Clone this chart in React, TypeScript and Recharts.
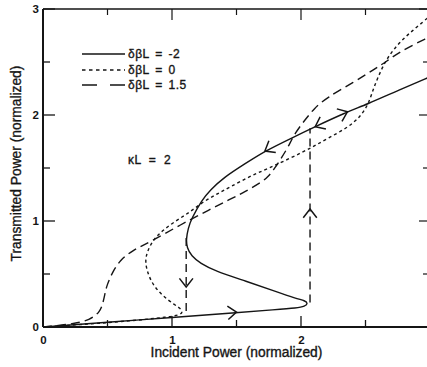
import React from 'react';
import { ComposedChart, Line, Scatter, XAxis, YAxis, Legend, Label } from 'recharts';

type P = [number, number];

// ---------- data ----------
const X_TICKS = [0, 0.5, 1, 1.5, 2, 2.5, 3];
const Y_TICKS = [0, 0.5, 1, 1.5, 2, 2.5, 3];
const X_TICK_LABELS = [0, 1, 2];
const Y_TICK_LABELS = [0, 1, 2, 3];
const X_DOMAIN: P = [0, 3];
const Y_DOMAIN: P = [0, 3];

const SERIES_NAMES = ['δβL = -2', 'δβL = 0', 'δβL = 1.5'];
const ANNOTATION = 'κL = 2';
const X_TITLE = 'Incident Power (normalized)';
const Y_TITLE = 'Transmitted Power (normalized)';

// δβL = -2 (solid)
const solidCurve: P[] = [
  [0, 0], [0.5, 0.045], [1.0, 0.09], [1.5, 0.135], [1.8, 0.163], [1.97, 0.18], [2.03, 0.195],
  [2.055, 0.222], [2.03, 0.25], [1.97, 0.265], [1.79, 0.34], [1.58, 0.43], [1.33, 0.53],
  [1.22, 0.6], [1.15, 0.67], [1.115, 0.75], [1.11, 0.83], [1.125, 0.93], [1.15, 1.02],
  [1.233, 1.2], [1.295, 1.29], [1.4, 1.41], [1.566, 1.54], [1.72, 1.66], [1.94, 1.79],
  [2.11, 1.89], [2.34, 2.02], [2.51, 2.1], [2.75, 2.23], [3.0, 2.36],
];

// δβL = 0 (dotted)
const dottedCurve: P[] = [
  [0, 0], [0.36, 0.028], [0.67, 0.057], [0.98, 0.094], [1.06, 0.115], [1.085, 0.14],
  [1.06, 0.18], [1.02, 0.21], [0.93, 0.29], [0.853, 0.396], [0.814, 0.5], [0.791, 0.613],
  [0.806, 0.708], [0.853, 0.821], [0.93, 0.915], [1.039, 1.009], [1.14, 1.085], [1.24, 1.18],
  [1.349, 1.255], [1.45, 1.32], [1.6, 1.42], [1.744, 1.495], [1.93, 1.6], [2.078, 1.69],
  [2.2, 1.775], [2.357, 1.877], [2.457, 1.98], [2.52, 2.094], [2.558, 2.236], [2.597, 2.358],
  [2.651, 2.5], [2.713, 2.613], [2.806, 2.736], [2.899, 2.83], [3.0, 2.935],
];

// δβL = 1.5 (dashed)
const dashedCurve: P[] = [
  [0, 0], [0.233, 0.028], [0.364, 0.066], [0.442, 0.142], [0.465, 0.226], [0.481, 0.32],
  [0.496, 0.396], [0.535, 0.509], [0.597, 0.632], [0.698, 0.726], [0.829, 0.802],
  [1.062, 0.962], [1.295, 1.11], [1.45, 1.205], [1.566, 1.275], [1.698, 1.37], [1.744, 1.415],
  [1.798, 1.5], [1.853, 1.604], [1.9, 1.698], [1.953, 1.83], [2.031, 1.953], [2.1, 2.06],
  [2.2, 2.165], [2.41, 2.31], [2.566, 2.43], [2.67, 2.51], [2.767, 2.6], [3.0, 2.74],
];

// hysteresis jumps
const jumpDown: P[] = [[1.11, 0.84], [1.11, 0.11]];
const jumpUp: P[] = [[2.07, 0.23], [2.07, 1.875]];

// arrow heads: x, y (tip), direction dx, dy (data units)
const arrowHeads: [number, number, number, number][] = [
  [1.5, 0.14, 1, 0.09],
  [1.72, 1.66, -1, -0.72],
  [2.11, 1.89, -1, -0.575],
  [2.36, 2.03, 1, 0.5],
  [1.11, 0.377, 0, -1],
  [2.07, 1.113, 0, 1],
];

const rows = (pts: P[]) => pts.map(([x, y]) => ({ x, y }));
const arrowRows = arrowHeads.map(([x, y, dx, dy]) => ({ x, y, dx, dy }));

// ---------- layout / style ----------
const W = 431;
const H = 367;
const MARGIN = { top: 8, right: 0, bottom: 10, left: 13 };
const Y_AXIS_W = 30;
const X_AXIS_H = 30;
const EDGE = 1;
const PLOT_W = W - MARGIN.left - Y_AXIS_W - MARGIN.right - EDGE;
const PLOT_H = H - MARGIN.top - EDGE - MARGIN.bottom - X_AXIS_H;
const PX_X = PLOT_W / (X_DOMAIN[1] - X_DOMAIN[0]);
const PX_Y = PLOT_H / (Y_DOMAIN[1] - Y_DOMAIN[0]);

const INK = '#151515';
const FONT = "'Liberation Sans', Arial, Helvetica, sans-serif";
const STYLES = [
  { dash: undefined as string | undefined, legendDash: undefined as string | undefined },
  { dash: '3 3', legendDash: '3.5 3.5' },
  { dash: '9 5', legendDash: '15 13' },
];
const MAJOR = 11;
const MINOR = 7;
const TEXT_WEIGHT = { stroke: INK, strokeWidth: 0.35 };

const isInt = (v: number) => Math.abs(v - Math.round(v)) < 1e-9;

const BottomTick = (props: any) => {
  const { x, y, payload } = props;
  const v = payload.value as number;
  return (
    <g>
      <line x1={x} x2={x} y1={y} y2={y - (isInt(v) ? MAJOR : MINOR)} stroke={INK} strokeWidth={1.3} />
      {X_TICK_LABELS.includes(v) && (
        <text x={x + 0.5} y={y + 16.5} textAnchor="middle" fontFamily={FONT} fontWeight="bold" fontSize={11.5} fill={INK}>
          {v}
        </text>
      )}
    </g>
  );
};

const TopTick = (props: any) => {
  const { x, y, payload } = props;
  const v = payload.value as number;
  return <line x1={x} x2={x} y1={y} y2={y + (isInt(v) ? MAJOR : MINOR - 1)} stroke={INK} strokeWidth={1.2} />;
};

const LeftTick = (props: any) => {
  const { x, y, payload } = props;
  const v = payload.value as number;
  return (
    <g>
      <line x1={x} x2={x + (isInt(v) ? MAJOR + 1 : MINOR)} y1={y} y2={y} stroke={INK} strokeWidth={1.3} />
      {Y_TICK_LABELS.includes(v) && (
        <text x={x - 4} y={y + 4.2} textAnchor="end" fontFamily={FONT} fontWeight="bold" fontSize={11.5} fill={INK}>
          {v}
        </text>
      )}
    </g>
  );
};

const RightTick = (props: any) => {
  const { x, y, payload } = props;
  const v = payload.value as number;
  return <line x1={x} x2={x - (isInt(v) ? MAJOR : MINOR)} y1={y} y2={y} stroke={INK} strokeWidth={1.2} />;
};

const ArrowHead = (props: any) => {
  const { cx, cy, payload } = props;
  if (cx == null || cy == null) return <g />;
  const ang = Math.atan2(-payload.dy * PX_Y, payload.dx * PX_X);
  const back = ang + Math.PI;
  const L = 11;
  const h = (38 * Math.PI) / 180;
  const ax = cx + L * Math.cos(back + h);
  const ay = cy + L * Math.sin(back + h);
  const bx = cx + L * Math.cos(back - h);
  const by = cy + L * Math.sin(back - h);
  return (
    <path d={`M${ax},${ay} L${cx},${cy} L${bx},${by}`} fill="none" stroke={INK} strokeWidth={1.5} strokeLinejoin="miter" />
  );
};

const XTitle = (props: any) => {
  const vb = props.viewBox || { x: 0, y: 0, width: 0, height: 0 };
  return (
    <text x={vb.x + vb.width / 2} y={vb.y + vb.height} textAnchor="middle" fontFamily={FONT} fontSize={13.8} fill={INK} {...TEXT_WEIGHT}>
      {X_TITLE}
    </text>
  );
};

const YTitle = (props: any) => {
  const vb = props.viewBox || { x: 0, y: 0, width: 0, height: 0 };
  const cx = vb.x + 3;
  const cy = vb.y + vb.height / 2 - 4.5;
  return (
    <text
      x={cx}
      y={cy}
      transform={`rotate(-90 ${cx} ${cy})`}
      textAnchor="middle"
      dominantBaseline="central"
      fontFamily={FONT}
      fontSize={13.8}
      fill={INK}
      {...TEXT_WEIGHT}
    >
      {Y_TITLE}
    </text>
  );
};

const LegendBox = () => (
  <svg width={130} height={130} style={{ display: 'block', overflow: 'visible' }}>
    {SERIES_NAMES.map((name, i) => {
      const yy = [10, 26, 41][i];
      return (
        <g key={name}>
          <line x1={4} x2={47} y1={yy} y2={yy} stroke={INK} strokeWidth={1.4} strokeDasharray={STYLES[i].legendDash} />
          <text x={50} y={yy + 4} fontFamily={FONT} fontSize={12} letterSpacing={0.5} wordSpacing={2} fill={INK} {...TEXT_WEIGHT}>
            {name}
          </text>
        </g>
      );
    })}
    <text x={50} y={120} fontFamily={FONT} fontSize={12} letterSpacing={0.6} wordSpacing={3.5} fill={INK} {...TEXT_WEIGHT}>
      {ANNOTATION}
    </text>
  </svg>
);

export default function App() {
  const curves = [solidCurve, dottedCurve, dashedCurve];
  return (
    <div style={{ position: 'fixed', left: 0, top: 0, width: 427, height: 367, overflow: 'hidden', background: '#fff' }}>
      <ComposedChart width={W} height={H} margin={MARGIN}>
        <XAxis
          xAxisId="b"
          dataKey="x"
          type="number"
          domain={X_DOMAIN}
          allowDataOverflow
          ticks={X_TICKS}
          interval={0}
          tickSize={0}
          tickMargin={0}
          tickLine={false}
          tick={(p: any) => <BottomTick {...p} />}
          axisLine={{ stroke: INK, strokeWidth: 2 }}
          height={X_AXIS_H}
        >
          <Label content={(p: any) => <XTitle {...p} />} />
        </XAxis>
        <XAxis
          xAxisId="t"
          orientation="top"
          dataKey="x"
          type="number"
          domain={X_DOMAIN}
          allowDataOverflow
          ticks={X_TICKS}
          interval={0}
          tickSize={0}
          tickMargin={0}
          tickLine={false}
          tick={(p: any) => <TopTick {...p} />}
          axisLine={{ stroke: INK, strokeWidth: 1.4 }}
          height={EDGE}
        />
        <YAxis
          yAxisId="l"
          dataKey="y"
          type="number"
          domain={Y_DOMAIN}
          allowDataOverflow
          ticks={Y_TICKS}
          interval={0}
          tickSize={0}
          tickMargin={0}
          tickLine={false}
          tick={(p: any) => <LeftTick {...p} />}
          axisLine={{ stroke: INK, strokeWidth: 2 }}
          width={Y_AXIS_W}
        >
          <Label content={(p: any) => <YTitle {...p} />} />
        </YAxis>
        <YAxis
          yAxisId="r"
          orientation="right"
          dataKey="y"
          type="number"
          domain={Y_DOMAIN}
          allowDataOverflow
          ticks={Y_TICKS}
          interval={0}
          tickSize={0}
          tickMargin={0}
          tickLine={false}
          tick={(p: any) => <RightTick {...p} />}
          axisLine={{ stroke: INK, strokeWidth: 1.4 }}
          width={EDGE}
        />
        <Legend
          layout="vertical"
          align="center"
          verticalAlign="middle"
          wrapperStyle={{ left: 78, top: 44, width: 130, height: 130, lineHeight: 0 }}
          content={() => <LegendBox />}
        />
        {curves.map((c, i) => (
          <Line
            key={SERIES_NAMES[i]}
            name={SERIES_NAMES[i]}
            xAxisId="b"
            yAxisId="l"
            data={rows(c)}
            dataKey="y"
            type="basis"
            stroke={INK}
            strokeWidth={1.4}
            strokeDasharray={STYLES[i].dash}
            dot={false}
            activeDot={false}
            isAnimationActive={false}
          />
        ))}
        {[jumpDown, jumpUp].map((c, i) => (
          <Line
            key={'jump' + i}
            xAxisId="b"
            yAxisId="l"
            data={rows(c)}
            dataKey="y"
            type="linear"
            stroke={INK}
            strokeWidth={1.4}
            strokeDasharray="8 5"
            dot={false}
            activeDot={false}
            legendType="none"
            isAnimationActive={false}
          />
        ))}
        <Scatter
          xAxisId="b"
          yAxisId="l"
          data={arrowRows}
          dataKey="y"
          shape={(p: any) => <ArrowHead {...p} />}
          legendType="none"
          isAnimationActive={false}
        />
      </ComposedChart>
    </div>
  );
}
